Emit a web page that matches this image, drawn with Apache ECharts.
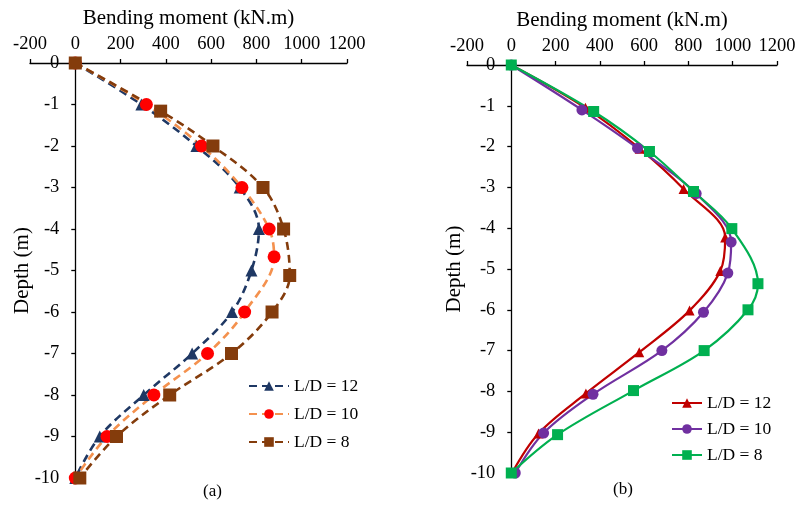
<!DOCTYPE html>
<html>
<head>
<meta charset="utf-8">
<script src="https://cdn.jsdelivr.net/npm/echarts@6/dist/echarts.min.js"></script>
<style>
  html, body { margin: 0; padding: 0; background: #fff; }
  #chart { width: 795px; height: 507px; }
</style>
</head>
<body>
<div id="chart"></div>
<script>
// Bending moment (kN.m) along pile depth (m) for three L/D ratios.
const seriesNames = ['L/D = 12', 'L/D = 10', 'L/D = 8'];
const xTicks = { min: -200, max: 1200, step: 200 };
const yTicks = { min: -10, max: 0, step: 1 };

// Panel (a): depth and moment pairs
const aDepth12 = [0, -1, -2, -3, -4, -5, -6, -7, -8, -9, -10];
const aMoment12 = [0, 292, 535, 726, 811, 778, 692, 516, 302, 108, 0];
const aDepth10 = [0, -1, -2, -3, -4, -4.67, -6, -7, -8, -9, -10];
const aMoment10 = [0, 314, 557, 736, 856, 878, 748, 584, 347, 140, 0];
const aDepth8 = [0, -1.16, -2, -3, -4, -5.12, -6, -7, -8, -9, -10];
const aMoment8 = [0, 377, 608, 829, 920, 947, 869, 690, 417, 182, 20];

// Panel (b): depth and moment pairs
const bDepth12 = [0, -1.05, -2.05, -3.04, -4.23, -5.05, -6.02, -7.04, -8.05, -9.03, -10];
const bMoment12 = [0, 335, 580, 778, 966, 944, 805, 578, 337, 123, 3];
const bDepth10 = [0, -1.1, -2.04, -3.15, -4.34, -5.1, -6.06, -7.0, -8.07, -9.02, -10];
const bMoment10 = [0, 319, 570, 835, 993, 978, 868, 680, 369, 146, 18];
const bDepth8 = [0, -1.14, -2.12, -3.1, -4.01, -5.36, -6.0, -7.0, -7.98, -9.06, -10];
const bMoment8 = [0, 372, 624, 823, 996, 1114, 1069, 871, 552, 209, 0];

const pairs = (xs, ys) => xs.map((x, i) => [x, ys[i]]);

const FONT = 'Liberation Serif';
const plain = v => String(v);

// Panel frames (px); the depth axis is shifted right so it sits at moment = 0
const panels = [
  { left: 30, right: 448, top: 63, bottom: 29, nameGap: 42 },
  { left: 467, right: 18, top: 65, bottom: 34, nameGap: 46 }
];
const CHART_W = 795;
const zeroShift = p => (CHART_W - p.left - p.right) * (0 - xTicks.min) / (xTicks.max - xTicks.min);

function xAxisFor(idx) {
  return {
    type: 'value', gridIndex: idx, position: 'top',
    min: xTicks.min, max: xTicks.max, interval: xTicks.step,
    name: 'Bending moment (kN.m)', nameLocation: 'middle', nameGap: 34, nameMoveOverlap: false,
    nameTextStyle: { fontFamily: FONT, fontSize: 21, color: '#000' },
    axisLine: { onZero: false, lineStyle: { color: '#000', width: 1.3 } },
    axisTick: { inside: false, length: 4, lineStyle: { color: '#000', width: 1.3 } },
    axisLabel: { fontFamily: FONT, fontSize: 18.5, color: '#000', margin: 9, formatter: plain },
    splitLine: { show: false }
  };
}
function yAxisFor(idx) {
  const p = panels[idx];
  return {
    type: 'value', gridIndex: idx, position: 'left', offset: -zeroShift(p),
    min: yTicks.min, max: yTicks.max, interval: yTicks.step,
    name: 'Depth (m)', nameLocation: 'middle', nameGap: p.nameGap, nameMoveOverlap: false,
    nameTextStyle: { fontFamily: FONT, fontSize: 21, color: '#000' },
    axisLine: { onZero: false, lineStyle: { color: '#000', width: 1.3 } },
    axisTick: { inside: false, length: 4, lineStyle: { color: '#000', width: 1.3 } },
    axisLabel: { fontFamily: FONT, fontSize: 18.5, color: '#000', margin: 16, formatter: plain },
    splitLine: { show: false }
  };
}

function lineSeries(name, idx, data, lineColor, markColor, symbol, size, dashed) {
  return {
    name, type: 'line', xAxisIndex: idx, yAxisIndex: idx,
    data, smooth: 0.35, symbol, symbolSize: size,
    lineStyle: { color: lineColor, width: dashed ? 2.6 : 2.2, type: dashed ? [8, 5] : 'solid' },
    itemStyle: { color: markColor },
    z: 3
  };
}

const option = {
  backgroundColor: '#fff',
  animation: false,
  grid: panels.map(p => ({
    left: p.left, right: p.right, top: p.top, bottom: p.bottom,
    outerBoundsMode: 'none', containLabel: false
  })),
  xAxis: [xAxisFor(0), xAxisFor(1)],
  yAxis: [yAxisFor(0), yAxisFor(1)],
  legend: [
    {
      left: 243, top: 372, orient: 'vertical', itemGap: 10, itemWidth: 40, itemHeight: 12,
      textStyle: { fontFamily: FONT, fontSize: 17.5, color: '#000' },
      data: seriesNames.map(n => ({ name: n + ' ' })),
    },
    {
      left: 666, top: 389, orient: 'vertical', itemGap: 8, itemWidth: 30, itemHeight: 12,
      textStyle: { fontFamily: FONT, fontSize: 17.5, color: '#000' },
      data: seriesNames
    }
  ],
  graphic: [
    { type: 'text', left: 203, top: 483, style: { text: '(a)', font: '17px "Liberation Serif"', fill: '#000' } },
    { type: 'text', left: 613, top: 481, style: { text: '(b)', font: '17px "Liberation Serif"', fill: '#000' } }
  ],
  series: [
    lineSeries(seriesNames[0] + ' ', 0, pairs(aMoment12, aDepth12), '#1F3864', '#1F3864', 'triangle', 12, true),
    lineSeries(seriesNames[1] + ' ', 0, pairs(aMoment10, aDepth10), '#F4914E', '#FF0000', 'circle', 13, true),
    lineSeries(seriesNames[2] + ' ', 0, pairs(aMoment8, aDepth8), '#843C0C', '#843C0C', 'rect', 13, true),
    lineSeries(seriesNames[0], 1, pairs(bMoment12, bDepth12), '#C00000', '#C00000', 'triangle', 10, false),
    lineSeries(seriesNames[1], 1, pairs(bMoment10, bDepth10), '#7030A0', '#7030A0', 'circle', 11, false),
    lineSeries(seriesNames[2], 1, pairs(bMoment8, bDepth8), '#00B050', '#00B050', 'rect', 11, false)
  ]
};

echarts.init(document.getElementById('chart'), null, { renderer: 'canvas' }).setOption(option);
</script>
</body>
</html>
